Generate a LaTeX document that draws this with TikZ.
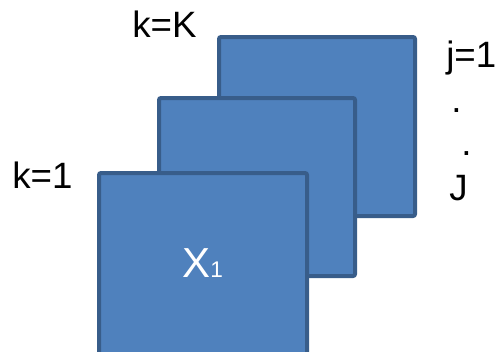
\documentclass[tikz,border=0pt]{standalone}
\usepackage{fontspec}
\setmainfont{Liberation Sans}
\definecolor{boxfill}{HTML}{4F81BD}
\definecolor{boxline}{HTML}{385D8A}
\begin{document}
\begin{tikzpicture}[x=0.75pt,y=-0.75pt,
  sheet/.style={draw=boxline,fill=boxfill,line width=3pt,rounded corners=1.5pt,inner sep=0pt,outer sep=0pt},
  lbl/.style={anchor=base west,inner sep=0pt,font=\fontsize{27.5}{30}\selectfont}]
\useasboundingbox (0,0) rectangle (495,351);
\clip (0,0) rectangle (495,351);
\node[sheet,minimum width=147pt,minimum height=134.25pt] (back) at (317,126.5) {};
\node[sheet,minimum width=147pt,minimum height=133.5pt] (middle) at (257,187) {};
\node[sheet,minimum width=156pt,minimum height=140.25pt] (front) at (203,266.5) {};
\node[lbl,text=white,font=\fontsize{31.5}{34}\selectfont] (x1) at (182,277) {X{\fontsize{17}{18}\selectfont 1}};
\node[lbl] (kK) at (132,37) {k=K};
\node[lbl] (k1) at (12,188) {k=1};
\node[lbl] (j1) at (446,67) {j=1};
\node[lbl] (d1) at (451,112) {.};
\node[lbl] (d2) at (461,155) {.};
\node[lbl] (J) at (449,200) {J};
\end{tikzpicture}
\end{document}
